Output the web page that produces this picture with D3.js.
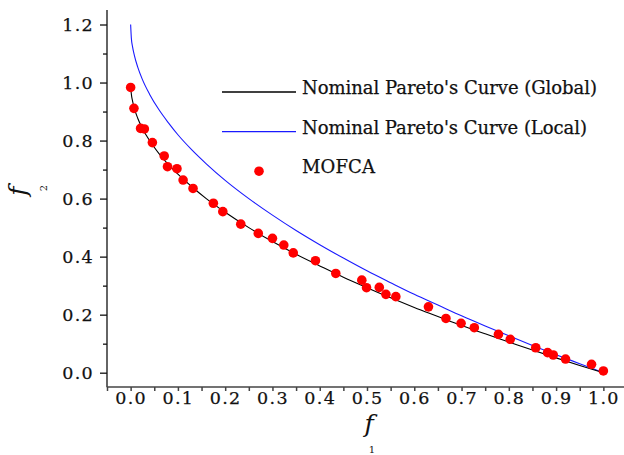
<!DOCTYPE html>
<html>
<head>
<meta charset="utf-8">
<script src="https://cdn.jsdelivr.net/npm/d3@7"></script>
<style>
  html, body { margin: 0; padding: 0; background: #fff; }
  svg { display: block; }
  text { font-family: "DejaVu Serif", "Liberation Serif", serif; fill: #111; }
</style>
</head>
<body>
<div id="chart"></div>
<script>
// Nominal Pareto front (global)
const globalF1 = [0.0004, 0.0015, 0.004, 0.008, 0.015, 0.025, 0.04, 0.06, 0.08, 0.1, 0.13, 0.16, 0.2, 0.25, 0.3, 0.35, 0.4, 0.45, 0.5, 0.55, 0.6, 0.65, 0.7, 0.75, 0.8, 0.85, 0.9, 0.95, 1.0];
const globalF2 = [0.98, 0.96, 0.937, 0.91, 0.877, 0.842, 0.80, 0.755, 0.717, 0.684, 0.64, 0.60, 0.553, 0.50, 0.452, 0.408, 0.368, 0.329, 0.293, 0.258, 0.225, 0.194, 0.163, 0.134, 0.106, 0.078, 0.051, 0.025, 0.0];

// Nominal Pareto front (local)
const localF1 = [0, 0.0015, 0.004, 0.008, 0.015, 0.025, 0.04, 0.06, 0.08, 0.1, 0.13, 0.16, 0.2, 0.25, 0.3, 0.35, 0.4, 0.45, 0.5, 0.55, 0.6, 0.65, 0.7, 0.75, 0.8, 0.85, 0.9, 0.95, 1.0];
const localF2 = [1.2, 1.153, 1.124, 1.093, 1.053, 1.01, 0.96, 0.906, 0.861, 0.82, 0.767, 0.72, 0.663, 0.60, 0.543, 0.49, 0.441, 0.395, 0.351, 0.31, 0.27, 0.233, 0.196, 0.161, 0.127, 0.094, 0.062, 0.031, 0.0];

// MOFCA solutions
const mofcaF1 = [0.0, 0.007, 0.021, 0.029, 0.046, 0.071, 0.078, 0.098, 0.111, 0.132, 0.175, 0.195, 0.233, 0.270, 0.300, 0.324, 0.344, 0.391, 0.434, 0.489, 0.499, 0.526, 0.540, 0.561, 0.630, 0.667, 0.699, 0.727, 0.778, 0.803, 0.857, 0.882, 0.894, 0.920, 0.975, 1.0];
const mofcaF2 = [0.983, 0.911, 0.842, 0.840, 0.793, 0.747, 0.710, 0.703, 0.664, 0.635, 0.584, 0.555, 0.512, 0.480, 0.463, 0.440, 0.413, 0.386, 0.342, 0.319, 0.293, 0.294, 0.270, 0.262, 0.227, 0.187, 0.170, 0.155, 0.132, 0.115, 0.086, 0.069, 0.061, 0.047, 0.029, 0.006];

const xMajor = [0, 0.1, 0.2, 0.3, 0.4, 0.5, 0.6, 0.7, 0.8, 0.9, 1.0];
const xMinor = [-0.05, 0.05, 0.15, 0.25, 0.35, 0.45, 0.55, 0.65, 0.75, 0.85, 0.95];
const yMajor = [0, 0.2, 0.4, 0.6, 0.8, 1.0, 1.2];
const yMinor = [0.1, 0.3, 0.5, 0.7, 0.9, 1.1];

const legendItems = [
  { label: "Nominal Pareto's Curve (Global)", kind: "line", color: "#000", len: 295 },
  { label: "Nominal Pareto's Curve (Local)", kind: "line", color: "#1a1aff", len: 285 },
  { label: "MOFCA", kind: "dot", color: "#ff0000", len: 73 }
];

const width = 624, height = 455;

const svg = d3.select("#chart").append("svg")
  .attr("width", width)
  .attr("height", height);

const x = d3.scaleLinear().domain([-0.05, 1.05]).range([107, 627]);
const y = d3.scaleLinear().domain([-0.05, 1.25]).range([387.2, 10]);

// Y axis (major + minor ticks)
const yAxis = svg.append("g").attr("transform", "translate(107,0)");
yAxis.call(d3.axisLeft(y).tickValues(yMajor).tickSize(7).tickPadding(6).tickFormat(d3.format(".1f")));
yAxis.append("g").call(d3.axisLeft(y).tickValues(yMinor).tickSize(4).tickFormat(""))
  .select(".domain").remove();
yAxis.select(".domain").attr("d", `M0,${y.range()[1]}V${y.range()[0]}`);
yAxis.selectAll("line, path").attr("stroke", "#111").attr("stroke-width", 1.3);
yAxis.selectAll("text")
  .attr("font-family", "DejaVu Serif")
  .attr("font-size", 17.5)
  .attr("letter-spacing", 1.3)
  .attr("fill", "#111")
  .attr("stroke", "#111")
  .attr("stroke-width", 0.25);

// X axis
const xAxis = svg.append("g").attr("transform", "translate(0,387)");
xAxis.call(d3.axisBottom(x).tickValues(xMajor).tickSize(4).tickPadding(1).tickFormat(d3.format(".1f")));
xAxis.append("g").call(d3.axisBottom(x).tickValues(xMinor).tickSize(4).tickFormat(""))
  .select(".domain").remove();
xAxis.select(".domain").attr("d", `M${x.range()[0]},0H${x.range()[1]}`);
xAxis.selectAll("line, path").attr("stroke", "#444").attr("stroke-width", 1.5);
xAxis.selectAll("text")
  .attr("font-family", "DejaVu Serif")
  .attr("font-size", 17.5)
  .attr("letter-spacing", 1.3)
  .attr("fill", "#111")
  .attr("stroke", "#111")
  .attr("stroke-width", 0.25);

// Curves
const line = d3.line()
  .x(d => x(d[0]))
  .y(d => y(d[1]))
  .curve(d3.curveMonotoneX);

svg.append("path")
  .datum(localF1.map((v, i) => [v, localF2[i]]))
  .attr("fill", "none")
  .attr("stroke", "#1a1aff")
  .attr("stroke-width", 1.1)
  .attr("d", line);

svg.append("path")
  .datum(globalF1.map((v, i) => [v, globalF2[i]]))
  .attr("fill", "none")
  .attr("stroke", "#000")
  .attr("stroke-width", 1.1)
  .attr("d", line);

// MOFCA points
svg.selectAll(".pt")
  .data(mofcaF1.map((v, i) => [v, mofcaF2[i]]))
  .enter()
  .append("circle")
  .attr("class", "pt")
  .attr("cx", d => x(d[0]))
  .attr("cy", d => y(d[1]))
  .attr("r", 4.8)
  .attr("fill", "#ff0000");

// Legend
const legend = svg.append("g").attr("transform", "translate(222,92)");
legendItems.forEach((item, i) => {
  const g = legend.append("g").attr("transform", `translate(0,${i * 39.6})`);
  if (item.kind === "line") {
    g.append("line").attr("x1", 0).attr("x2", 74).attr("y1", 0).attr("y2", 0)
      .attr("stroke", item.color).attr("stroke-width", 1.3);
  } else {
    g.append("circle").attr("cx", 37).attr("cy", 0).attr("r", 4.8).attr("fill", item.color);
  }
  g.append("text")
    .attr("x", 80)
    .attr("y", 2)
    .attr("font-size", 18)
    .attr("textLength", item.len)
    .attr("lengthAdjust", "spacing")
    .attr("stroke", "#111")
    .attr("stroke-width", 0.25)
    .text(item.label);
});

// Axis titles: italic f with a detached subscript
function axisTitle(cx, cy, sub, rotate) {
  const g = svg.append("g").attr("transform", `translate(${cx},${cy}) rotate(${rotate})`);
  g.append("text")
    .attr("text-anchor", "middle")
    .attr("font-family", "DejaVu Serif")
    .attr("font-style", "italic")
    .attr("font-size", 25)
    .attr("y", 5)
    .text("f");
  g.append("text")
    .attr("text-anchor", "middle")
    .attr("font-size", 10)
    .attr("x", 3)
    .attr("y", 26)
    .text(sub);
}
axisTitle(369, 427, "1", 0);
axisTitle(21, 191, "2", -90);
</script>
</body>
</html>
